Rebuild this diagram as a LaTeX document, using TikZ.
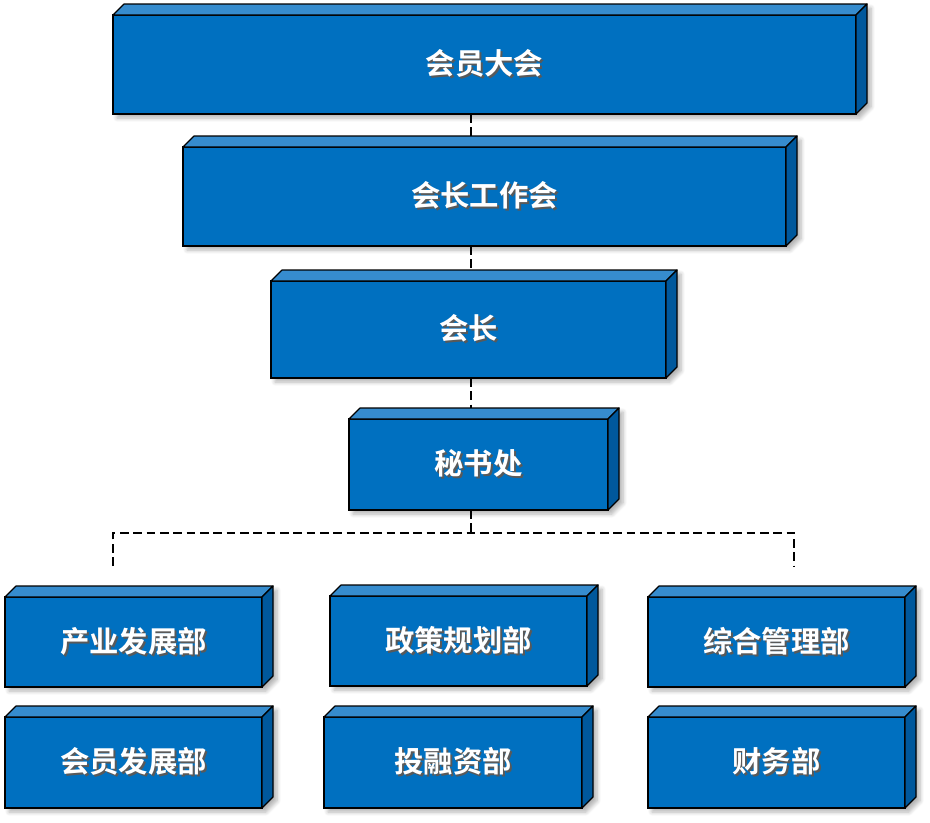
\documentclass[tikz,border=0pt]{standalone}
\usepackage{fontspec}
\newfontfamily\cjk{Noto Sans CJK SC}[BoldFont={Noto Sans CJK SC Bold}]
\usetikzlibrary{shadows.blur}
\pgfdeclarelayer{shadowlayer}
\pgfdeclarelayer{bglayer}
\pgfsetlayers{shadowlayer,bglayer,main}
\definecolor{frontc}{RGB}{0,112,192}
\definecolor{topc}{RGB}{54,140,206}
\definecolor{sidec}{RGB}{0,88,156}
\newcommand\shtext[1]{\rlap{\kern1.4pt\raisebox{-1.4pt}{\color{black!65}#1}}#1}
\newcommand\cubebox[6]{%
  \node[frontbox, minimum width={(#4-#2)*0.75pt}, minimum height={(#5-#3)*0.75pt}]
    (#1) at ({(#2+#4)/2},{(#3+#5)/2}) {\shtext{#6}};
  \filldraw[topface] (#1.north west) -- ++(11,-11) -- ([shift={(11,-11)}]#1.north east) -- (#1.north east) -- cycle;
  \filldraw[sideface] (#1.north east) -- ++(11,-11) -- ([shift={(11,-11)}]#1.south east) -- (#1.south east) -- cycle;
  \begin{pgfonlayer}{shadowlayer}
    \path[cubeshadow] (#1.south west) -- (#1.north west) -- ++(11,-11) -- ([shift={(11,-11)}]#1.north east)
      -- ([shift={(11,-11)}]#1.south east) -- (#1.south east) -- cycle;
  \end{pgfonlayer}
}
\begin{document}
\begin{tikzpicture}[x=0.75pt,y=-0.75pt,
  frontbox/.style={draw=black, fill=frontc, line width=0.9pt, inner sep=0pt, outer sep=0pt,
    text=white, font=\cjk\bfseries\fontsize{22}{25}\selectfont},
  topface/.style={draw=black, fill=topc, line width=0.9pt, line join=round},
  sideface/.style={draw=black, fill=sidec, line width=0.9pt, line join=round},
  cubeshadow/.style={blur shadow={shadow xshift=3pt, shadow yshift=-3pt, shadow blur steps=6, shadow blur radius=3pt, shadow opacity=30}},
  conn/.style={draw=black, line width=2pt, dash pattern=on 6.5pt off 3.5pt}]
\useasboundingbox (0,0) rectangle (930,822);
\cubebox{n1}{113}{15}{856}{114}{会员大会}
\cubebox{n2}{183}{147}{786}{246}{会长工作会}
\cubebox{n3}{271}{281}{666}{378}{会长}
\cubebox{n4}{349}{419}{608}{510}{秘书处}
\cubebox{d1}{5}{597}{262}{687}{产业发展部}
\cubebox{d2}{330}{596}{587}{686}{政策规划部}
\cubebox{d3}{648}{597}{905}{687}{综合管理部}
\cubebox{d4}{5}{717}{262}{808}{会员发展部}
\cubebox{d5}{324}{717}{582}{808}{投融资部}
\cubebox{d6}{648}{717}{905}{808}{财务部}
\coordinate (spine) at (471,0);
\coordinate (bus) at (471,533);
\coordinate (bl) at (113,566);
\coordinate (br) at (794,566);
\begin{pgfonlayer}{bglayer}
  \draw[conn] (n1.south -| spine) -- (n2.north -| spine);
  \draw[conn] (n2.south -| spine) -- (n3.north -| spine);
  \draw[conn] (n3.south -| spine) -- (n4.north -| spine);
  \draw[conn] (n4.south -| spine) -- (bus);
  \draw[conn] (bl) |- (bus) -| (br);
\end{pgfonlayer}
\end{tikzpicture}
\end{document}
